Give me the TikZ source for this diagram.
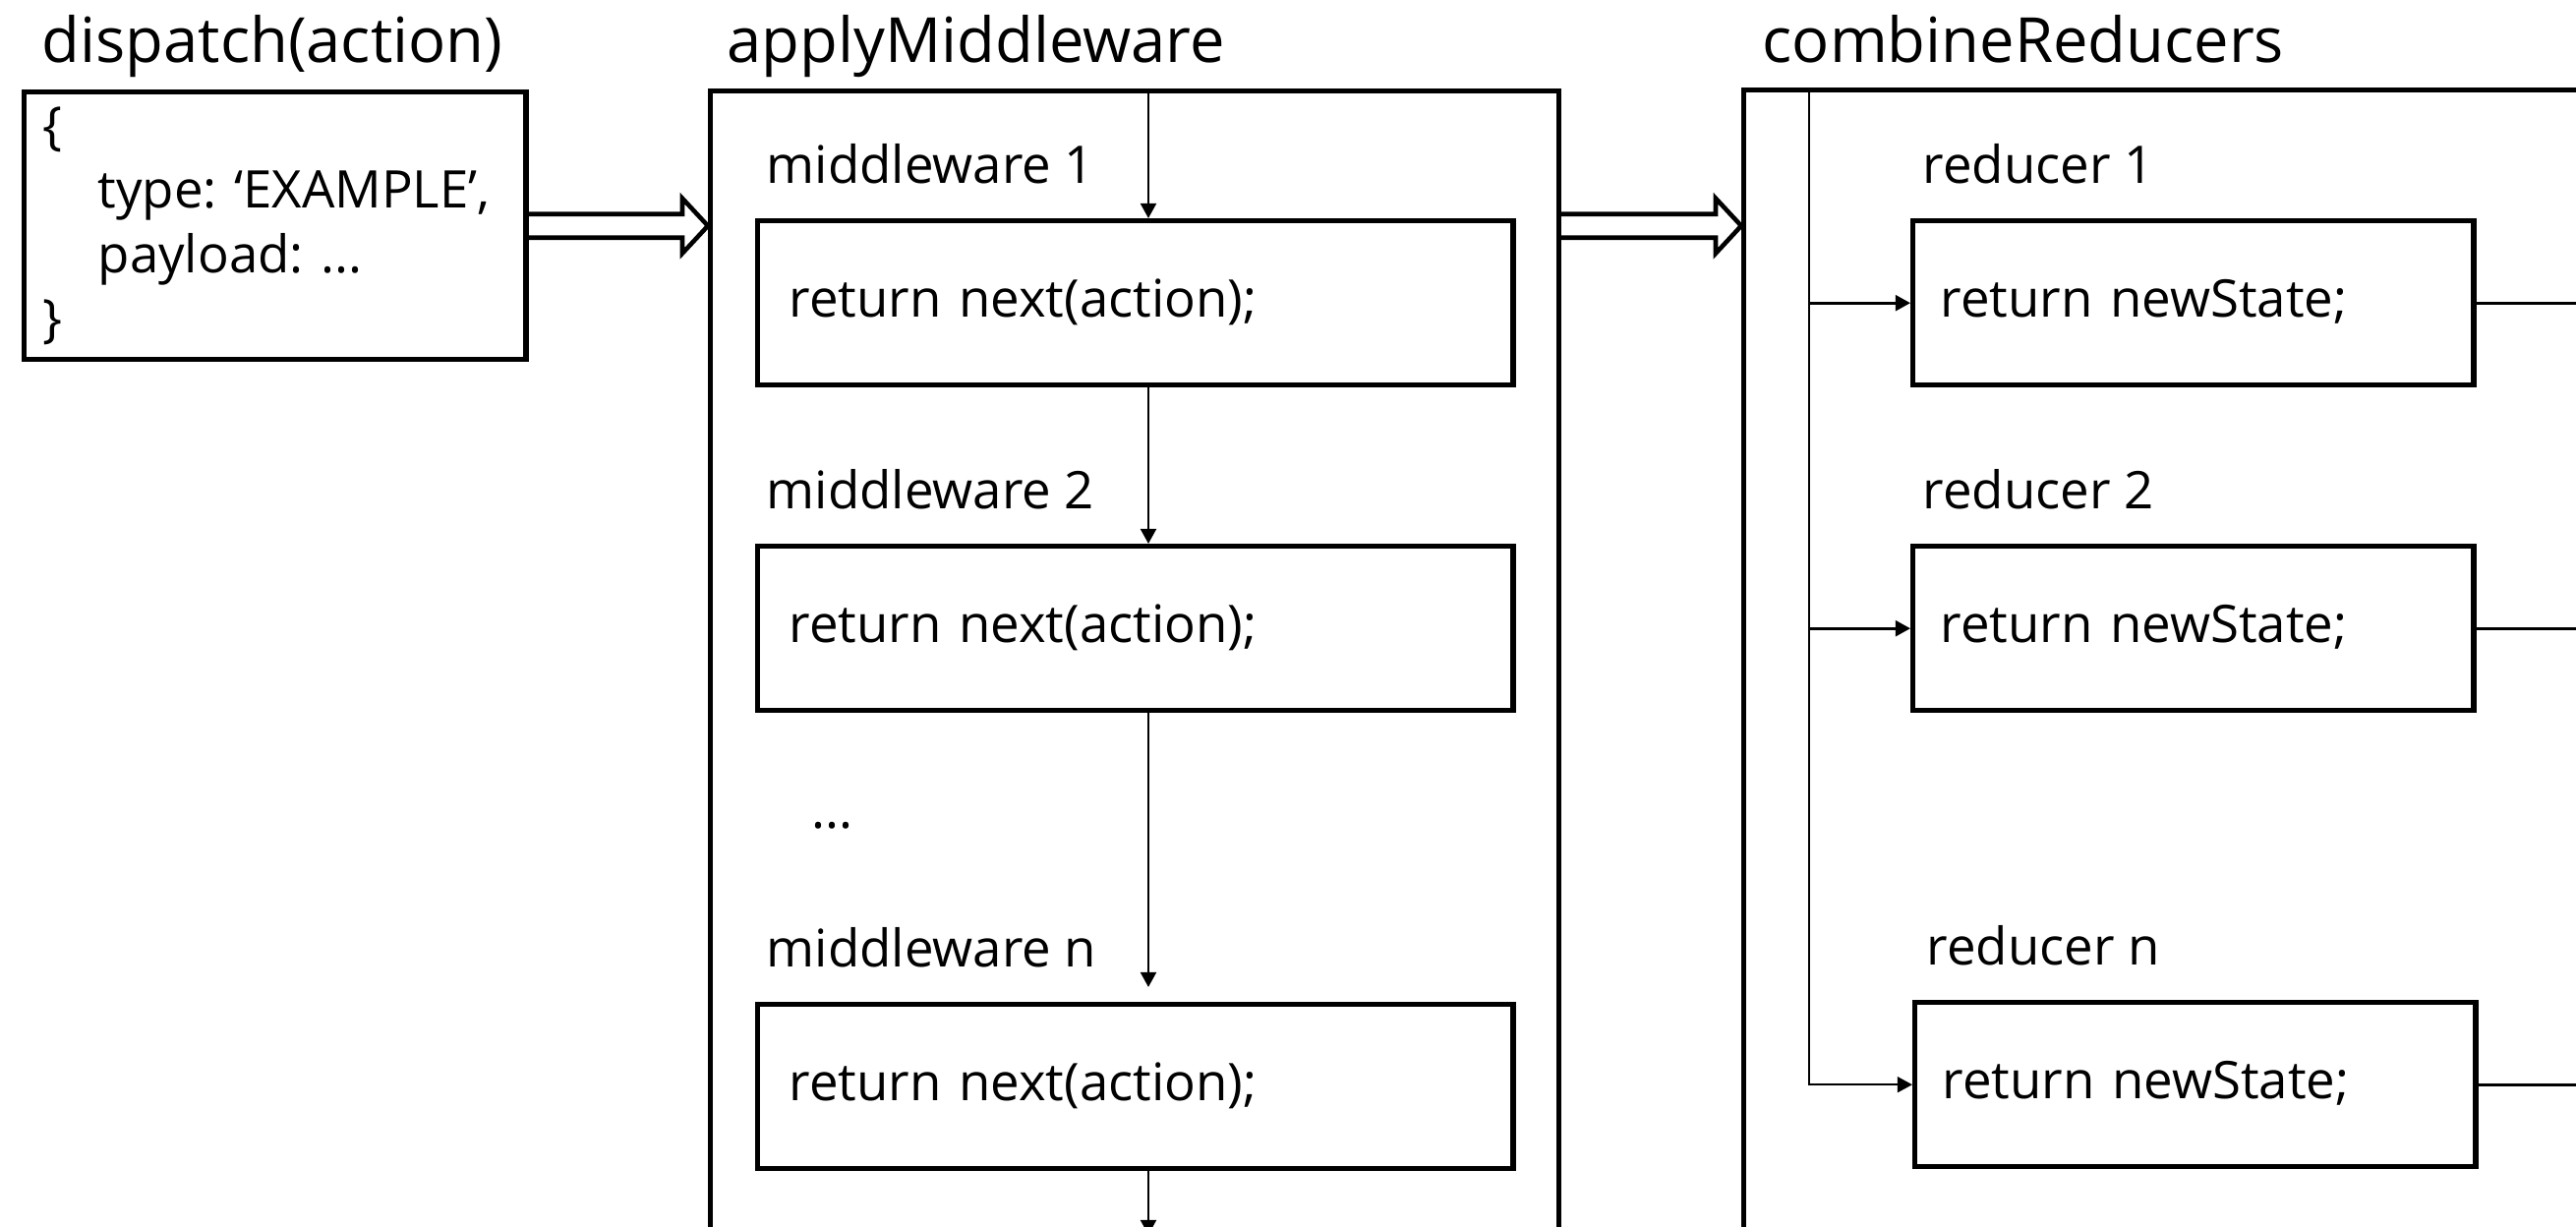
\documentclass[tikz,border=0pt]{standalone}
\usepackage{fontspec}
\setmainfont{Open Sans}
\usetikzlibrary{arrows.meta,calc}
\frenchspacing

\begin{document}
\begin{tikzpicture}[x=0.01cm, y=-0.01cm,
    heading/.style={anchor=base west, inner sep=0pt, font=\fontsize{18}{22}\selectfont},
    boxlabel/.style={anchor=base west, inner sep=0pt, font=\fontsize{15}{18}\selectfont},
    outer/.style={draw, line width=1.5pt, anchor=north west, minimum height=12cm},
    msgbox/.style={draw, line width=1.5pt, anchor=north west, align=left, font=\fontsize{15}{18.6}\selectfont},
    fnbox/.style={draw, line width=1.5pt, anchor=north west, minimum height=1.67cm, text height=1.5ex, text depth=0pt, align=left, font=\fontsize{15}{18}\selectfont},
    mwbox/.style={fnbox, inner xsep=0.32cm, text width=7.04cm},
    rdbox/.style={fnbox, inner xsep=0.28cm, text width=5.14cm},
    flow/.style={line width=0.8pt, -{Triangle[length=4.3pt,width=4.5pt]}},
    wire/.style={line width=0.8pt},
    fat/.style={line width=1.3pt}]
    \useasboundingbox (0,0) rectangle (2620,1248);

    \node[heading] (t-disp) at (42,63) {dispatch(action)};
    \node[heading] (t-mw) at (739,63) {applyMiddleware};
    \node[heading] (t-cr) at (1792,63) {combineReducers};

    \node[msgbox, minimum width=5.10cm, minimum height=2.72cm, inner xsep=0.19cm, text width=4.72cm] (disp) at (22,91)
        {\{\\\hspace*{0.56cm}type: ‘EXAMPLE’,\\\hspace*{0.56cm}payload: ...\\\}};

    \node[outer, minimum width=8.62cm] (mw) at (720,90) {};
    \node[outer, minimum width=10cm] (cr) at (1771,89) {};

    \node[boxlabel] (l-mw1) at (779,186) {middleware 1};
    \node[mwbox] (mw1) at (768,222) {return next(action);};
    \node[boxlabel] (l-mw2) at (779,517) {middleware 2};
    \node[mwbox] (mw2) at (768,553) {return next(action);};
    \node[boxlabel] (dots) at (825,842) {...};
    \node[boxlabel] (l-mwn) at (779,983) {middleware n};
    \node[mwbox] (mwn) at (768,1019) {return next(action);};

    \node[boxlabel] (l-rd1) at (1955,186) {reducer 1};
    \node[rdbox] (rd1) at (1943,222) {return newState;};
    \node[boxlabel] (l-rd2) at (1955,517) {reducer 2};
    \node[rdbox] (rd2) at (1943,553) {return newState;};
    \node[boxlabel] (l-rdn) at (1959,981) {reducer n};
    \node[rdbox] (rdn) at (1945,1017) {return newState;};

    \coordinate (spine) at (1168,0);
    \coordinate (fork) at (1840,0);
    \coordinate (exit) at (2660,0);
    \coordinate (floor) at (0,1256);

    \draw[fat] ($(disp.east)+(0,-12)$) -- ($(mw.west |- disp.east)+(-26,-12)$) -- ++(0,-16)
        -- (mw.west |- disp.east) -- ++(-26,28) -- ++(0,-16) -- ($(disp.east)+(0,12)$);
    \draw[fat] ($(mw.east |- disp.east)+(0,-12)$) -- ($(cr.west |- disp.east)+(-26,-12)$) -- ++(0,-16)
        -- (cr.west |- disp.east) -- ++(-26,28) -- ++(0,-16) -- ($(mw.east |- disp.east)+(0,12)$);

    \draw[flow] (spine |- mw.north) -- (spine |- mw1.north);
    \draw[flow] (spine |- mw1.south) -- (spine |- mw2.north);
    \draw[flow] (spine |- mw2.south) -- ($(spine |- mwn.north)+(0,-15)$);
    \draw[flow] (spine |- mwn.south) -- (spine |- floor);

    \draw[flow, line width=0.6pt] (fork |- cr.north) -- (fork |- rdn.west) -- (rdn.west);
    \draw[flow] (fork |- rd1.west) -- (rd1.west);
    \draw[flow] (fork |- rd2.west) -- (rd2.west);
    \draw[wire] (rd1.east) -- (rd1.east -| exit);
    \draw[wire] (rd2.east) -- (rd2.east -| exit);
    \draw[wire] (rdn.east) -- (rdn.east -| exit);
  \end{tikzpicture}
\end{document}
